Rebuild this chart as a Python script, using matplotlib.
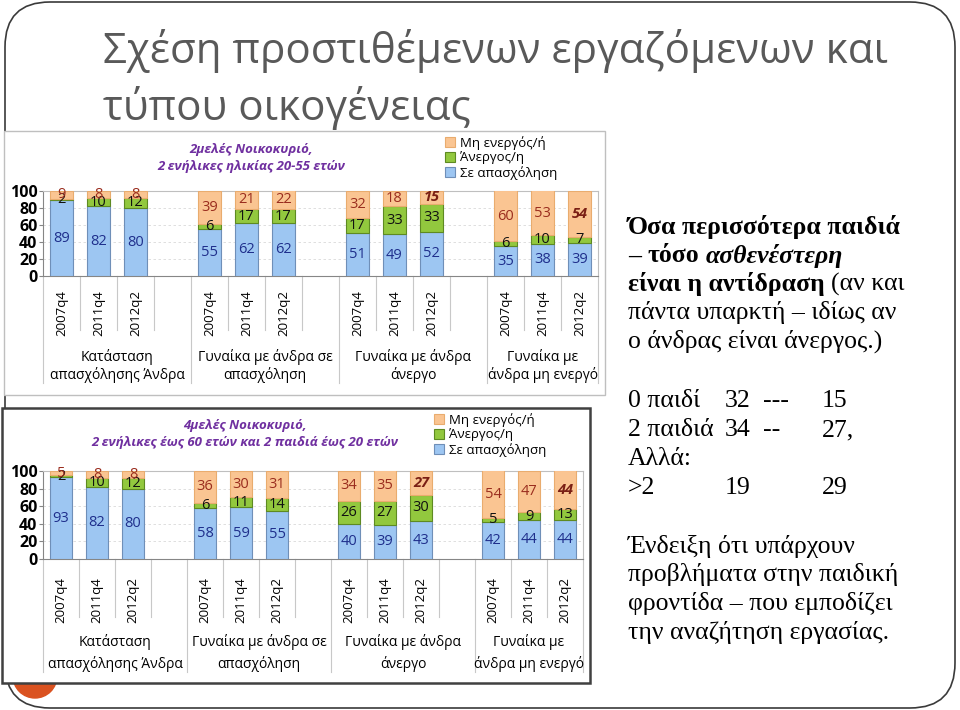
import matplotlib
matplotlib.use('Agg')
import matplotlib.pyplot as plt
from matplotlib.patches import Rectangle, FancyBboxPatch, Circle
from matplotlib.transforms import blended_transform_factory
import numpy as np

W, H = 960, 710
SANS = ['Open Sans', 'DejaVu Sans']
SERIF = ['Liberation Serif', 'DejaVu Serif']
plt.rcParams['font.family'] = SANS

# ---- data ----
groups = ["Κατάσταση\nαπασχόλησης Άνδρα",
          "Γυναίκα με άνδρα σε\nαπασχόληση",
          "Γυναίκα με άνδρα\nάνεργο",
          "Γυναίκα με\nάνδρα μη ενεργό"]
periods = ["2007q4", "2011q4", "2012q2"]
series_names = ["Μη ενεργός/ή", "Άνεργος/η", "Σε απασχόληση"]
yticks = [0, 20, 40, 60, 80, 100]

top_title = "2μελές Νοικοκυριό,\n2 ενήλικες ηλικίας 20-55 ετών"
top_employed   = [89, 82, 80, 55, 62, 62, 51, 49, 52, 35, 38, 39]
top_unemployed = [2, 10, 12, 6, 17, 17, 17, 33, 33, 6, 10, 7]
top_inactive   = [9, 8, 8, 39, 21, 22, 32, 18, 15, 60, 53, 54]
top_highlight  = [8, 11]

bot_title = "4μελές Νοικοκυριό,\n2 ενήλικες έως 60 ετών και 2 παιδιά έως 20 ετών"
bot_employed   = [93, 82, 80, 58, 59, 55, 40, 39, 43, 42, 44, 44]
bot_unemployed = [2, 10, 12, 6, 11, 14, 26, 27, 30, 5, 9, 13]
bot_inactive   = [5, 8, 8, 36, 30, 31, 34, 35, 27, 54, 47, 44]
bot_highlight  = [8, 11]

title_lines = ["Σχέση προστιθέμενων εργαζόμενων και", "τύπου οικογένειας"]

note_lines = [
    [("Όσα περισσότερα παιδιά", 'bold', 'normal')],
    [("–", 'bold', 'normal'), ("τόσο", 'bold', 'normal'), ("ασθενέστερη", 'bold', 'italic')],
    [("είναι η αντίδραση", 'bold', 'normal'), ("(αν και", 'normal', 'normal')],
    [("πάντα υπαρκτή – ιδίως αν", 'normal', 'normal')],
    [("ο άνδρας είναι άνεργος.)", 'normal', 'normal')],
]
kids_rows = [["0 παιδί", "32", "---", "15"],
             ["2 παιδιά", "34", "--", "27,"],
             ["Αλλά:", "", "", ""],
             [">2", "19", "", "29"]]
hint_lines = ["Ένδειξη ότι υπάρχουν", "προβλήματα στην παιδική",
              "φροντίδα – που εμποδίζει", "την αναζήτηση εργασίας."]

C_EMP, C_UNE, C_INA = '#9DC6F2', '#92C83E', '#FAC592'
E_EMP, E_UNE, E_INA = '#6F8FB8', '#5E8A22', '#E9AC6E'
T_EMP, T_UNE, T_INA = '#1F2F8C', '#111111', '#9A2D1E'

fig = plt.figure(figsize=(W / 100, H / 100), dpi=100)
bg = fig.add_axes([0, 0, 1, 1])
bg.set_xlim(0, W)
bg.set_ylim(H, 0)
bg.axis('off')
rend = fig.canvas.get_renderer()


def width_px(t):
    return t.get_window_extent(rend).width


# slide frame, number circle, chart panels
bg.add_patch(FancyBboxPatch((5, 2), 950, 706, boxstyle='round,pad=0,rounding_size=45',
                            fill=False, ec='#3A3A3A', lw=1.2, zorder=1))
bg.add_patch(Circle((35, 676), 22, color='#DA5220', zorder=2))
bg.add_patch(Rectangle((4, 131), 601, 264, fc='white', ec='#BFBFBF', lw=1, zorder=3))
bg.add_patch(Rectangle((2, 408), 588, 275, fc='white', ec='#404040', lw=1.8, zorder=3))

# slide title
t1 = bg.text(103, 63, title_lines[0], color='#595959', fontsize=30, va='baseline')
size = 30 * 784 / width_px(t1)
t1.set_fontsize(size)
bg.text(103, 120, title_lines[1], color='#595959', fontsize=size, va='baseline')

# right hand notes
probe = bg.text(0, -50, hint_lines[1], family=SERIF, fontsize=16)
nsize = 16 * 270 / width_px(probe)
probe.remove()
gap = nsize * 100 / 72 * 0.25
for i, runs in enumerate(note_lines):
    x = 628
    for s, wgt, sty in runs:
        t = bg.text(x, 234 + i * 28.5, s, family=SERIF, fontsize=nsize,
                    fontweight=wgt, fontstyle=sty, va='baseline')
        x += width_px(t) + gap
cols = [628, 725, 763, 822]
for i, row in enumerate(kids_rows):
    for cx, s in zip(cols, row):
        bg.text(cx, 407 + i * 29, s, family=SERIF, fontsize=nsize, va='baseline')
for i, s in enumerate(hint_lines):
    bg.text(628, 553 + i * 28.5, s, family=SERIF, fontsize=nsize, va='baseline')


def draw_chart(box, legend_xy, emp, une, ina, highlight,
               tick_pad, sep_short, sep_long, grp_off, grp_ls):
    x0, y0, x1, y1 = box
    ax = fig.add_axes([x0 / W, 1 - y1 / H, (x1 - x0) / W, (y1 - y0) / H])
    ax.set_facecolor('none')
    slots = [4 * g + p + 0.5 for g in range(len(groups)) for p in range(len(periods))]
    b1 = ax.bar(slots, emp, width=0.62, color=C_EMP, ec=E_EMP, lw=0.8, zorder=3)
    b2 = ax.bar(slots, une, bottom=emp, width=0.62, color=C_UNE, ec=E_UNE, lw=0.8, zorder=3)
    b3 = ax.bar(slots, ina, bottom=np.add(emp, une), width=0.62, color=C_INA, ec=E_INA,
                lw=0.8, zorder=3)
    ax.bar_label(b1, label_type='center', color=T_EMP, fontsize=10.5)
    ax.bar_label(b2, label_type='center', color=T_UNE, fontsize=10.5)
    top_txt = ax.bar_label(b3, label_type='center', color=T_INA, fontsize=10.5)
    for i in highlight:
        top_txt[i].set_fontweight('bold')
        top_txt[i].set_fontstyle('italic')
        top_txt[i].set_color('#7A1F14')

    ax.set_xlim(0, 15)
    ax.set_ylim(0, 100)
    ax.set_yticks(yticks)
    ax.tick_params(axis='y', labelsize=11.5, length=3, color='#868686', pad=1)
    for lbl in ax.get_yticklabels():
        lbl.set_fontweight('bold')
    ax.set_xticks(slots)
    ax.set_xticklabels(periods * len(groups), rotation=90, fontsize=9.5)
    ax.tick_params(axis='x', length=0, pad=tick_pad)
    ax.set_axisbelow(True)
    ax.yaxis.grid(True, color='#D9D9D9', ls=(0, (3, 3)), lw=0.6)
    for side in ['left', 'bottom']:
        ax.spines[side].set_color('#868686')
    for side in ['top', 'right']:
        ax.spines[side].set_color('#BFBFBF')

    ah = y1 - y0
    tr = blended_transform_factory(ax.transData, ax.transAxes)
    for g in range(len(groups)):
        start, end = 4 * g, min(4 * g + 4, 15)
        for k in range(start + 1, end):
            ax.plot([k, k], [0, -sep_short / ah], transform=tr, clip_on=False,
                    color='#C8C8C8', lw=0.8)
        ax.plot([start, start], [0, -sep_long / ah], transform=tr, clip_on=False,
                color='#C8C8C8', lw=0.8)
        ax.text((start + end) / 2, -grp_off / ah, groups[g], transform=tr,
                ha='center', va='center', fontsize=10, linespacing=grp_ls)
    ax.plot([15, 15], [0, -sep_long / ah], transform=tr, clip_on=False,
            color='#C8C8C8', lw=0.8)

    ax.legend([b3, b2, b1], series_names, loc='upper left',
              bbox_to_anchor=(legend_xy[0] / W, 1 - legend_xy[1] / H),
              bbox_transform=fig.transFigure, frameon=False, fontsize=9.5,
              handlelength=0.75, handleheight=0.75, handletextpad=0.35,
              labelspacing=0.12, borderpad=0, borderaxespad=0)
    return ax


draw_chart((43, 191, 598, 276), (445, 136),
           top_employed, top_unemployed, top_inactive, top_highlight,
           tick_pad=10, sep_short=54, sep_long=107, grp_off=90, grp_ls=1.1)
draw_chart((43, 471, 583, 559), (434, 413),
           bot_employed, bot_unemployed, bot_inactive, bot_highlight,
           tick_pad=13, sep_short=58, sep_long=113, grp_off=94, grp_ls=1.45)

bg.text(251, 158, top_title, ha='center', va='center', color='#7030A0', fontsize=9.5,
        fontweight='bold', fontstyle='italic', linespacing=1.45)
bg.text(245, 434, bot_title, ha='center', va='center', color='#7030A0', fontsize=9.5,
        fontweight='bold', fontstyle='italic', linespacing=1.45)

fig.savefig('out.png', dpi=100)
